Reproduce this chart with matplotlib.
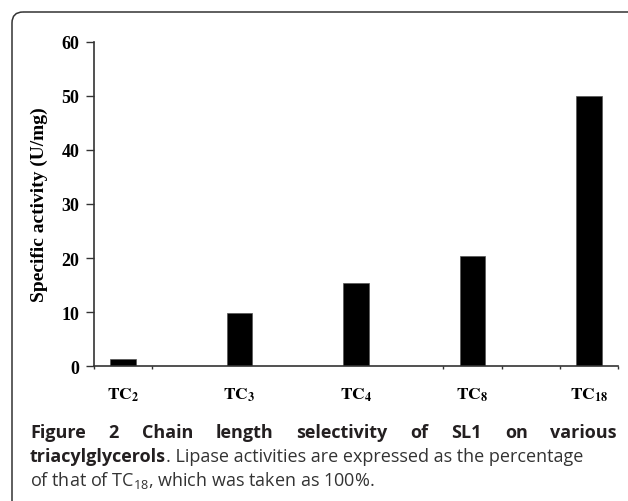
import numpy as np
import matplotlib
matplotlib.use('Agg')
import matplotlib.pyplot as plt
from matplotlib.patches import FancyBboxPatch

# chain length selectivity data
substrates = ['2', '3', '4', '8', '18']
activity = [1.3, 9.8, 15.3, 20.3, 50.0]
slot_pos = [0.5, 2.5, 4.5, 6.5, 8.5]
tick_marks = [0, 1, 6, 7, 8, 9]
yticks = [0, 10, 20, 30, 40, 50, 60]

caption1 = ['Figure', '2', 'Chain', 'length', 'selectivity', 'of', 'SL1', 'on', 'various']
caption2_bold = 'triacylglycerols'
caption2_rest = '. Lipase activities are expressed as the percentage'
caption3 = r'of that of TC$_{18}$, which was taken as 100%.'

plt.rcParams['mathtext.fontset'] = 'custom'
plt.rcParams['mathtext.rm'] = 'Open Sans'
plt.rcParams['mathtext.it'] = 'Open Sans'

W, H = 628, 502
fig = plt.figure(figsize=(W/100, H/100), dpi=100)

# frame + caption layer, in pixel units
bg = fig.add_axes([0, 0, 1, 1])
bg.set_xlim(0, W)
bg.set_ylim(H, 0)
bg.axis('off')
bg.add_patch(FancyBboxPatch((12, 13), 640, 520, boxstyle='round,pad=0,rounding_size=11',
                            fill=False, edgecolor='#333333', linewidth=1.1, clip_on=False))

# main chart
ax = fig.add_axes([94/W, 1-367/H, 524/W, 324/H])
ax.bar(slot_pos, activity, width=0.44, color='black', edgecolor='#555555', linewidth=0.5)
ax.set_xlim(0, 9)
ax.set_ylim(0, 60)
ax.set_yticks(yticks)
ax.set_xticks(slot_pos)
ax.set_xticklabels([r'$\mathbf{TC}_{\mathbf{%s}}$' % s for s in substrates])
ax.set_xticks(tick_marks, minor=True)
for lab in ax.get_xticklabels():
    lab.set_math_fontfamily('stix')
    lab.set_fontsize(12.5)
ax.tick_params(axis='x', which='major', length=0, pad=14)
ax.tick_params(axis='x', which='minor', length=2.5, width=1, color='#333333', direction='out')
ax.tick_params(axis='y', length=5.5, width=1, color='#333333', pad=5)
for lab in ax.get_yticklabels():
    lab.set_fontfamily('Liberation Serif')
    lab.set_fontweight('bold')
    lab.set_fontsize(13)
ax.set_ylabel('Specific activity (U/mg)', fontfamily='Liberation Serif', fontweight='bold',
              fontsize=14, labelpad=10)
for s in ['top', 'right']:
    ax.spines[s].set_visible(False)
for s in ['left', 'bottom']:
    ax.spines[s].set_color('#333333')
    ax.spines[s].set_linewidth(1.2)

# caption
fig.canvas.draw()
r = fig.canvas.get_renderer()
cap_kw = dict(fontfamily='Open Sans', fontsize=13, va='baseline', ha='left')

x_left, x_right = 30, 617
words = [bg.text(0, 438, w, fontweight='bold', color='#231f20', **cap_kw) for w in caption1]
widths = [t.get_window_extent(r).width for t in words]
gap = (x_right - x_left - sum(widths)) / (len(words) - 1)
x = x_left
for t, w in zip(words, widths):
    t.set_x(x)
    x += w + gap

t1 = bg.text(x_left, 462, caption2_bold, fontweight='bold', color='#231f20', **cap_kw)
w1 = t1.get_window_extent(r).width
bg.text(x_left + w1, 462, caption2_rest, color='#333333', **cap_kw)
bg.text(x_left, 486, caption3, color='#333333', **cap_kw)

fig.savefig('out.png', dpi=100)
